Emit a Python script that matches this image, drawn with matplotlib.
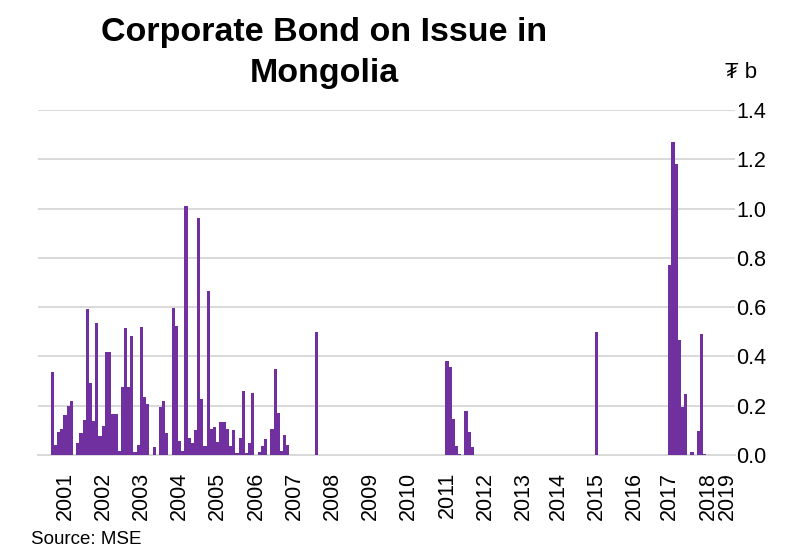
"""
Corporate bonds on issue in Mongolia, monthly, 2000-2018 (source: MSE).
Recreated bar chart -> out.png
"""

import numpy as np
import pandas as pd
import matplotlib
matplotlib.use("Agg")
import matplotlib.pyplot as plt
import matplotlib.ticker as ticker

plt.rcParams.update({"font.family": ["Liberation Sans", "DejaVu Sans"]})

# ── Config ────────────────────────────────────────────────────────────────────

C_BAR  = "#7030A0"
C_GRID = "#D9D9D9"

# ── Data (₮ billion, one value per month) ─────────────────────────────────────

ISSUE_2000_START = "2000-09"
ISSUE_2000 = [
    0.336, 0.040, 0.095, 0.106, 0.163, 0.200, 0.218, 0.000, 0.048, 0.091,
    0.143, 0.592, 0.293, 0.140, 0.537, 0.078, 0.118, 0.420, 0.420, 0.167,
    0.167, 0.018, 0.276, 0.517, 0.276, 0.483, 0.014, 0.040, 0.520, 0.235,
    0.207, 0.000, 0.034, 0.000, 0.195, 0.218, 0.088, 0.000, 0.596, 0.524,
    0.056, 0.018, 1.010, 0.069, 0.048, 0.100, 0.960, 0.229, 0.035, 0.664,
    0.106, 0.112, 0.054, 0.132, 0.132, 0.106, 0.038, 0.102, 0.008, 0.070,
    0.258, 0.007, 0.048, 0.250, 0.000, 0.012, 0.037, 0.066, 0.000, 0.105,
    0.347, 0.170, 0.015, 0.080, 0.040,
]
ISSUE_2007_START = "2007-08"
ISSUE_2007 = [0.50]
ISSUE_2011_START = "2011-01"
ISSUE_2011 = [0.381, 0.358, 0.148, 0.035, 0.003, 0.000, 0.177, 0.094, 0.031]
ISSUE_2015_START = "2015-01"
ISSUE_2015 = [0.50]
ISSUE_2017_START = "2017-01"
ISSUE_2017 = [0.770, 1.270, 1.180, 0.466, 0.193, 0.247, 0.000, 0.014, 0.000,
              0.098, 0.490, 0.005]

# category axis as in the source workbook: a few months are absent,
# 2018 is cut short and 2019 follows straight after
MISSING_MONTHS = ["2013-07", "2016-07"]
MONTHS = [p for p in pd.period_range("2000-05", "2018-06", freq="M")
          if str(p) not in MISSING_MONTHS]
MONTHS += list(pd.period_range("2019-01", "2019-03", freq="M"))

Y_TICKS = [0.0, 0.2, 0.4, 0.6, 0.8, 1.0, 1.2, 1.4]


def build_series():
    s = pd.Series(0.0, index=MONTHS)
    for start, vals in [
        (ISSUE_2000_START, ISSUE_2000),
        (ISSUE_2007_START, ISSUE_2007),
        (ISSUE_2011_START, ISSUE_2011),
        (ISSUE_2015_START, ISSUE_2015),
        (ISSUE_2017_START, ISSUE_2017),
    ]:
        p0 = pd.Period(start, freq="M")
        for i, v in enumerate(vals):
            s[p0 + i] = v
    return s


# ── Plot ──────────────────────────────────────────────────────────────────────

s = build_series()
x = np.arange(len(s))

fig = plt.figure(figsize=(7.9, 5.5), dpi=100)
ax = fig.add_axes([38 / 790, 1 - 455 / 550, (735 - 38) / 790, (455 - 110) / 550])

ax.bar(x, s.values, width=1.0, color=C_BAR, linewidth=0, zorder=3)

ax.set_xlim(-0.5, len(s) - 0.5)
ax.set_ylim(0, 1.4)

jan = [i for i, p in enumerate(MONTHS) if p.month == 1]
ax.set_xticks(jan)
ax.set_xticklabels([str(MONTHS[i].year) for i in jan], rotation=90, fontsize=15.5)
ax.tick_params(axis="x", length=0, pad=12)

ax.yaxis.tick_right()
ax.set_yticks(Y_TICKS)
ax.yaxis.set_major_formatter(ticker.FormatStrFormatter("%.1f"))
ax.tick_params(axis="y", length=0, pad=1, labelsize=15.5)

ax.yaxis.grid(True, color=C_GRID, lw=1.4, zorder=0)
ax.set_axisbelow(True)
for sp in ax.spines.values():
    sp.set_visible(False)
# baseline gridline sits on the lower edge of the axes
ax.axhline(0, color=C_GRID, lw=1.4, zorder=1, clip_on=False)

fig.text(324 / 790, 1 - 53 / 550, "Corporate Bond on Issue in\nMongolia",
         ha="center", va="center", fontsize=24.5, fontweight="bold",
         linespacing=1.45)
fig.text(741 / 790, 1 - 72 / 550, "₮ b", ha="center", va="center", fontsize=16)
fig.text(31 / 790, 1 - 539 / 550, "Source: MSE", ha="left", va="center", fontsize=13.5)

fig.savefig("out.png", dpi=100)
plt.close(fig)
